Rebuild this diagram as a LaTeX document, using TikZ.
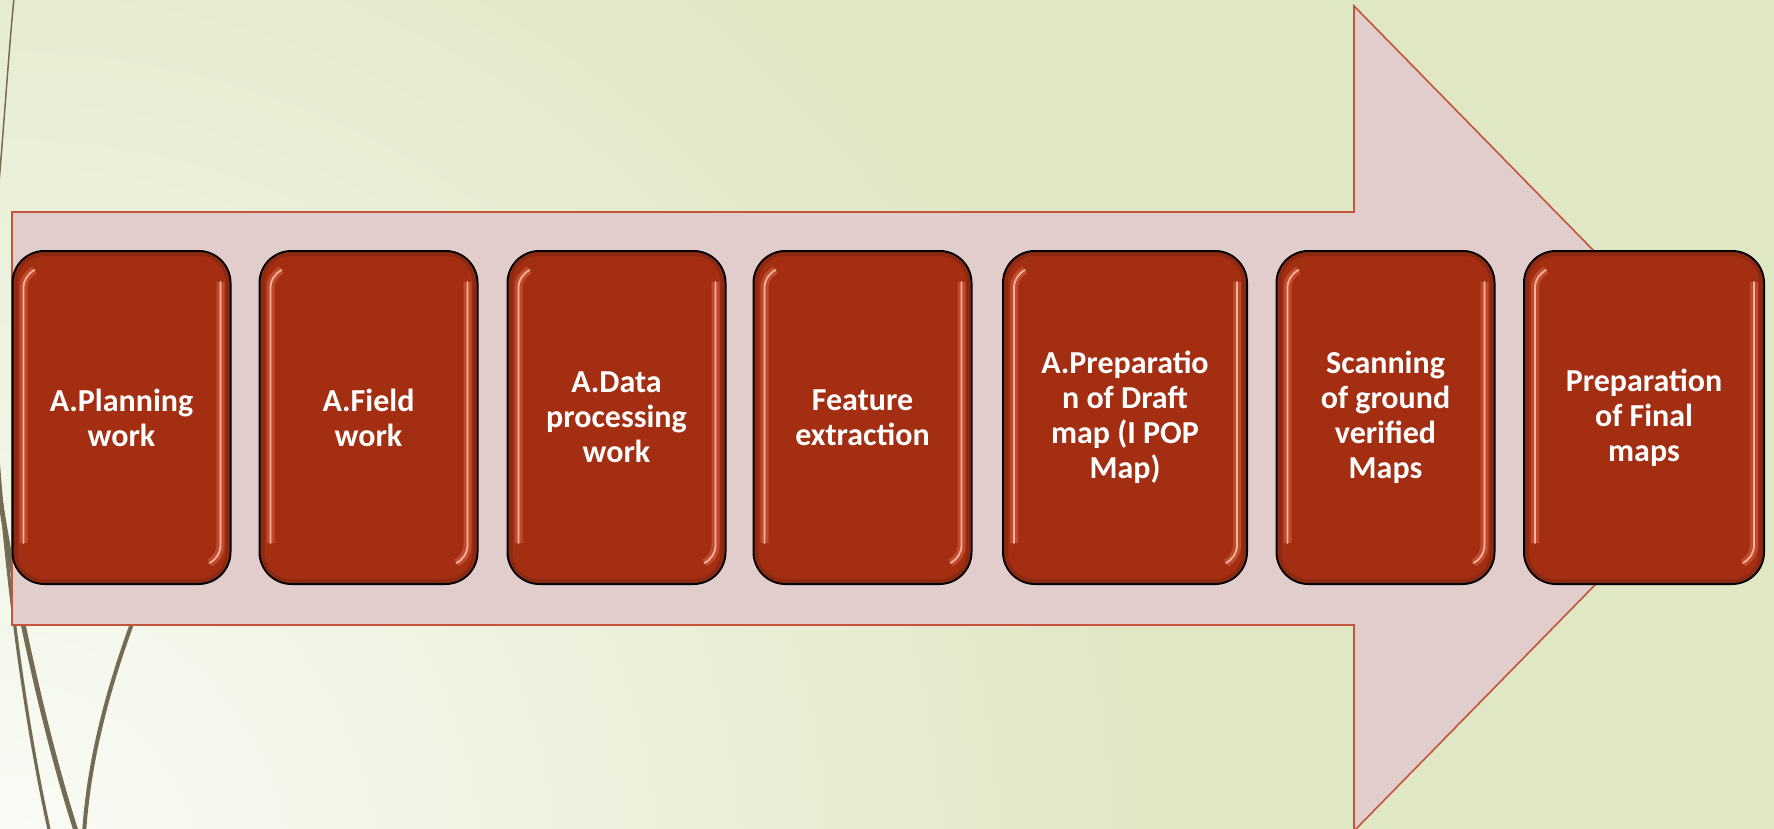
\documentclass[tikz,border=0pt]{standalone}
\usepackage{fontspec}
\setmainfont{Carlito}
\usetikzlibrary{calc}
\tikzset{every picture/.style={line width=0.75pt}}
\tikzset{
  stage/.style={rectangle, rounded corners=16pt, draw=black, line width=1pt,
    fill={rgb, 255:red, 164; green, 46; blue, 18 }, text=white, align=center,
    font=\fontsize{16}{17.5}\selectfont\bfseries, inner sep=0pt,
    minimum width=109pt, minimum height=166.5pt},
  rim/.style={line width=2pt, rounded corners=14pt, opacity=0.4,
    color={rgb, 255:red, 110; green, 34; blue, 16 }},
  gloss/.style={line width=0.9pt, line cap=round,
    color={rgb, 255:red, 252; green, 178; blue, 150 },
    preaction={draw, line width=4pt, opacity=0.4,
      color={rgb, 255:red, 230; green, 120; blue, 90 }}},
  wisp/.style={color={rgb, 255:red, 115; green, 108; blue, 82 }}
}

\begin{document}
\begin{tikzpicture}[x=0.5pt,y=0.5pt,yscale=-1,xscale=1]
\useasboundingbox (0,0) rectangle (1774,829);
\clip (0,0) rectangle (1774,829);

%Shape: Rectangle (backdrop)
\fill [color={rgb, 255:red, 223; green, 231; blue, 196 }] (0,0) rectangle (1774,829);
\shade [inner color={rgb, 255:red, 250; green, 252; blue, 247 }, outer color={rgb, 255:red, 223; green, 231; blue, 196 }] (0,880) circle (1200);

%Curve Lines
\draw [wisp, line width=0.75pt] (14,-2) .. controls (8,60) and (3,140) .. (-3,205) ;
%Curve Lines
\draw [wisp, line width=1.6pt] (-4,430) .. controls (6,580) and (25,720) .. (50,834) ;
%Curve Lines
\draw [wisp, line width=2.4pt] (-4,470) .. controls (8,560) and (40,720) .. (77,834) ;
%Curve Lines
\draw [wisp, line width=2pt] (175,520) .. controls (120,640) and (90,740) .. (84,834) ;

%Shape: Right Arrow
\draw [color={rgb, 255:red, 196; green, 84; blue, 60 }, fill={rgb, 255:red, 224; green, 205; blue, 204 }, line width=0.8pt] (12,212) -- (1354,212) -- (1354,6) -- (1758,418.5) -- (1354,831) -- (1354,625) -- (12,625) -- cycle ;

%Shape: Rounded Rect
\node (plan) [stage] at (121.5,417.5) {A.Planning\\work};
\node (field) [stage] at (368.5,417.5) {A.Field\\work};
\node (proc) [stage] at (616.5,417.5) {A.Data\\processing\\work};
\node (feat) [stage] at (862.5,417.5) {Feature\\extraction};
\node (draft) [stage, minimum width=122pt] at (1125,417.5) {A.Preparatio\\n of Draft\\map (I POP\\Map)};
\node (scan) [stage] at (1385.5,417.5) {Scanning\\of ground\\verified\\Maps};
\node (final) [stage, minimum width=120pt] at (1644,417.5) {Preparation\\of Final\\maps};

%Glossy edges
\foreach \s in {plan,field,proc,feat,draft,scan,final}{
  \draw [rim] ($(\s.north west)+(4,4)$) rectangle ($(\s.south east)+(-4,-4)$) ;
  \draw [gloss] ($(\s.south west)+(12,-42)$) -- ($(\s.north west)+(12,38)$) .. controls ($(\s.north west)+(12,30)$) and ($(\s.north west)+(16,24)$) .. ($(\s.north west)+(23,20)$) ;
  \draw [gloss] ($(\s.north east)+(-11,32)$) -- ($(\s.south east)+(-11,-40)$) .. controls ($(\s.south east)+(-11,-32)$) and ($(\s.south east)+(-15,-26)$) .. ($(\s.south east)+(-22,-22)$) ;
}
\end{tikzpicture}
\end{document}
